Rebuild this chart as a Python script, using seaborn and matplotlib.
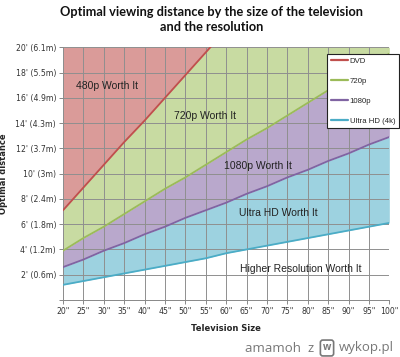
import matplotlib
matplotlib.use("Agg")
import matplotlib.pyplot as plt
import numpy as np
import pandas as pd
import seaborn as sns

# TV sizes (inches) and viewing distances (feet)
sizes = [20, 25, 30, 35, 40, 45, 50, 55, 60, 65, 70, 75, 80, 85, 90, 95, 100]
dvd_sizes = [20, 25, 30, 35, 40, 45, 50, 55, 60]
dvd = [7.1, 8.9, 10.7, 12.5, 14.2, 16.0, 17.8, 19.6, 21.4]
p720 = [3.9, 4.9, 5.8, 6.8, 7.8, 8.8, 9.7, 10.7, 11.7, 12.7, 13.6, 14.6, 15.6, 16.6, 17.5, 18.5, 19.5]
p1080 = [2.6, 3.2, 3.9, 4.5, 5.2, 5.8, 6.5, 7.1, 7.7, 8.4, 9.0, 9.7, 10.3, 11.0, 11.6, 12.3, 12.9]
uhd = [1.2, 1.5, 1.8, 2.1, 2.4, 2.7, 3.0, 3.3, 3.7, 4.0, 4.3, 4.6, 4.9, 5.2, 5.5, 5.8, 6.1]

x_ticks = list(range(20, 101, 5))
x_labels = [f'{v}"' for v in x_ticks]
y_ticks = list(range(0, 21, 2))
y_labels = ["", "2' (0.6m)", "4' (1.2m)", "6' (1.8m)", "8' (2.4m)", "10' (3m)",
            "12' (3.7m)", "14' (4.3m)", "16' (4.9m)", "18' (5.5m)", "20' (6.1m)"]

line_colors = {"DVD": "#C0504D", "720p": "#9BBB59", "1080p": "#8064A2", "Ultra HD (4k)": "#4BACC6"}
fill_colors = {"DVD": "#DA9B99", "720p": "#C8DBA2", "1080p": "#B9A8CC", "Ultra HD (4k)": "#9DD2E0"}

sns.set_style("white")
plt.rcParams["font.family"] = ["DejaVu Sans"]

fig = plt.figure(figsize=(4.0, 3.57), dpi=100)
ax = fig.add_axes([0.1575, 0.1597, 0.8158, 0.7078])

ax.fill_between(sizes, p720, 20, color=fill_colors["720p"], lw=0, zorder=1)
ax.fill_between(dvd_sizes, dvd, 20, color=fill_colors["DVD"], lw=0, zorder=1)
ax.fill_between(sizes, p1080, p720, color=fill_colors["1080p"], lw=0, zorder=1)
ax.fill_between(sizes, uhd, p1080, color=fill_colors["Ultra HD (4k)"], lw=0, zorder=1)

df = pd.concat([
    pd.DataFrame({"size": dvd_sizes, "dist": dvd, "res": "DVD"}),
    pd.DataFrame({"size": sizes, "dist": p720, "res": "720p"}),
    pd.DataFrame({"size": sizes, "dist": p1080, "res": "1080p"}),
    pd.DataFrame({"size": sizes, "dist": uhd, "res": "Ultra HD (4k)"}),
])
sns.lineplot(data=df, x="size", y="dist", hue="res", palette=line_colors,
             lw=1.3, ax=ax, zorder=3)

ax.set_xlim(20, 100)
ax.set_ylim(0, 20)
ax.set_xticks(x_ticks)
ax.set_xticklabels(x_labels, fontsize=5.6, color="#333333")
ax.set_yticks(y_ticks)
ax.set_yticklabels(y_labels, fontsize=5.6, color="#333333")
ax.tick_params(axis="both", length=3, width=0.7, color="#888888", pad=2, left=True, bottom=True)
ax.grid(True, color="#8f8f8f", lw=0.7, zorder=2)
ax.set_axisbelow(False)
for side in ["top", "right"]:
    ax.spines[side].set_visible(False)
for side in ["left", "bottom"]:
    ax.spines[side].set_color("#888888")
    ax.spines[side].set_linewidth(0.7)

ax.set_xlabel("Television Size", fontsize=6, fontweight="bold", labelpad=6)
ax.set_ylabel("Optimal distance", fontsize=6, fontweight="bold", labelpad=5)

region_kw = dict(fontsize=7.5, family="Liberation Sans", color="#222222", ha="center", va="center", zorder=4)
ax.text(30.7, 16.9, "480p Worth It", **region_kw)
ax.text(54.7, 14.6, "720p Worth It", **region_kw)
ax.text(67.9, 10.6, "1080p Worth It", **region_kw)
ax.text(72.9, 6.9, "Ultra HD Worth It", **region_kw)
ax.text(78.2, 2.45, "Higher Resolution Worth It", **region_kw)

handles, labels = ax.get_legend_handles_labels()
leg = ax.legend(handles, labels, loc="upper left", bbox_to_anchor=(327 / 400, 1 - 54 / 357),
                bbox_transform=fig.transFigure, prop={"family": "Liberation Sans", "size": 5.6},
                frameon=True, fancybox=False, edgecolor="#222222", framealpha=1,
                handlelength=2.3, handletextpad=0.15, labelspacing=1.6,
                borderpad=0.45, borderaxespad=0)
leg.get_frame().set_linewidth(0.8)
leg.set_zorder(5)
for line in leg.get_lines():
    line.set_linewidth(1.6)

fig.text(0.53, 0.945, "Optimal viewing distance by the size of the television\nand the resolution",
         ha="center", va="center", fontsize=9.2, fontweight="bold", family="Lato",
         color="#111111", linespacing=1.25)

fig.text(245 / 400, 1 - 348 / 357, "amamoh  z", fontsize=9.5, color="#777777", family="Open Sans",
         ha="left", va="center")
fig.text(339 / 400, 1 - 348 / 357, "wykop.pl", fontsize=9.5, color="#777777", family="Open Sans",
         ha="left", va="center")
fig.text(327 / 400, 1 - 348 / 357, "w", fontsize=7, color="#777777", family="Open Sans",
         fontweight="bold", ha="center", va="center",
         bbox=dict(boxstyle="round,pad=0.25", fc="none", ec="#777777", lw=1.2))

fig.savefig("out.png", dpi=100)
